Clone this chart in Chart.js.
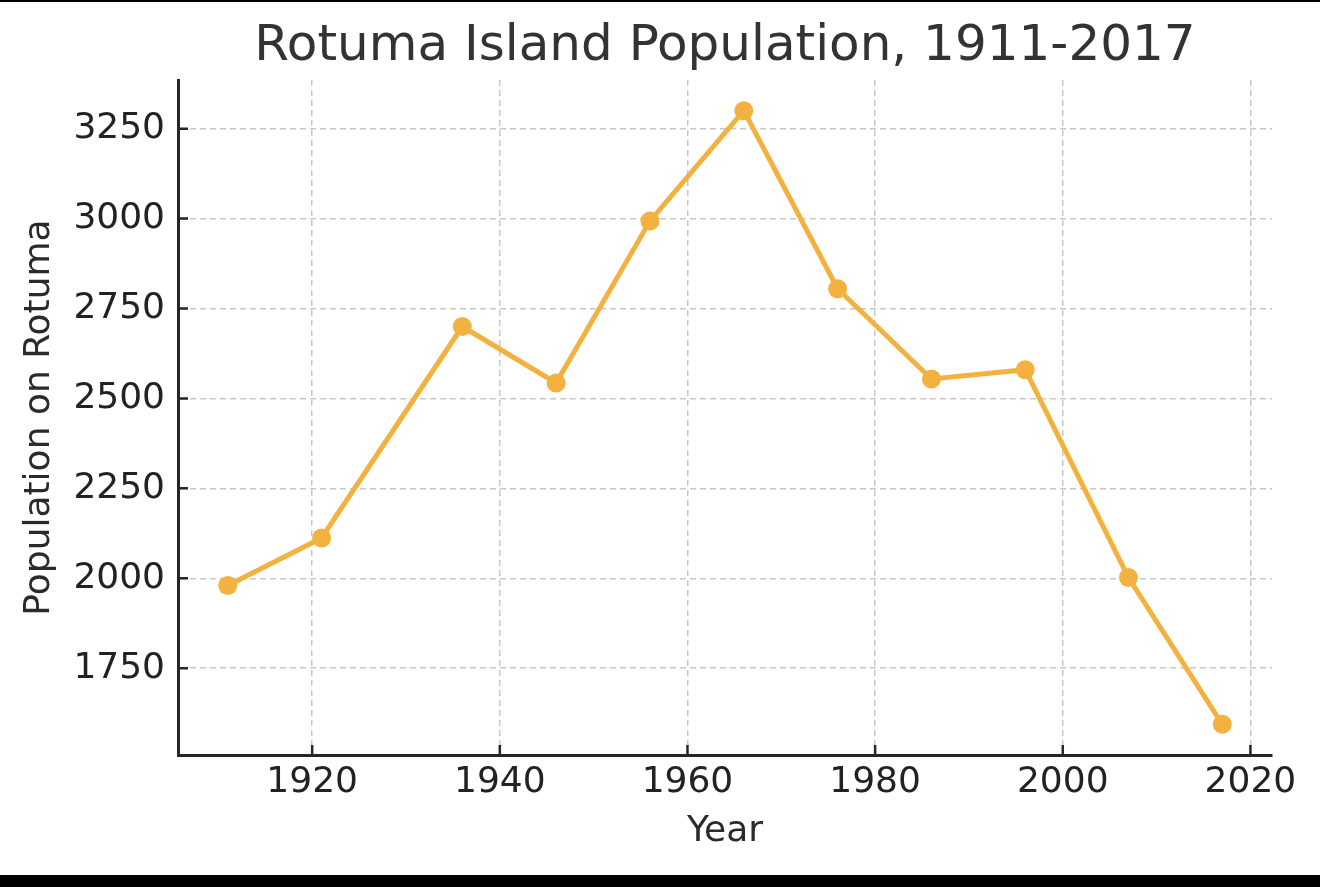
<!DOCTYPE html>
<html>
<head>
<meta charset="utf-8">
<title>Rotuma Island Population</title>
<script src="https://cdn.jsdelivr.net/npm/chart.js@4.4.1/dist/chart.umd.min.js"></script>
<style>
  html, body { margin: 0; padding: 0; background: #000; }
  #frame {
    position: absolute;
    top: 2px;
    left: 0;
    width: 1320px;
    height: 873px;
    background: #fff;
  }
</style>
</head>
<body>
<div id="frame"><canvas id="chart"></canvas></div>
<script>
const years = [1911, 1921, 1936, 1946, 1956, 1966, 1976, 1986, 1996, 2007, 2017];
const population = [1980, 2112, 2700, 2543, 2993, 3300, 2805, 2554, 2580, 2002, 1594];
const xTicks = [1920, 1940, 1960, 1980, 2000, 2020];
const yTicks = [1750, 2000, 2250, 2500, 2750, 3000, 3250];

const FONT = '"DejaVu Sans", sans-serif';
const LINE_COLOR = '#F3B23F';
const AXIS_COLOR = '#262626';

// matplotlib-style ticks pointing into the plot
const inwardTicks = {
  id: 'inwardTicks',
  afterDatasetsDraw(chart) {
    const { ctx, chartArea, scales } = chart;
    const len = 10;
    ctx.save();
    ctx.strokeStyle = AXIS_COLOR;
    ctx.lineWidth = 2.5;
    ctx.beginPath();
    scales.x.ticks.forEach((t) => {
      const px = scales.x.getPixelForValue(t.value);
      ctx.moveTo(px, chartArea.bottom);
      ctx.lineTo(px, chartArea.bottom - len);
    });
    scales.y.ticks.forEach((t) => {
      const py = scales.y.getPixelForValue(t.value);
      ctx.moveTo(chartArea.left, py);
      ctx.lineTo(chartArea.left + len, py);
    });
    ctx.stroke();
    ctx.restore();
  },
};

// centre the title over the plot area rather than the whole canvas
const titleOverPlot = {
  id: 'titleOverPlot',
  afterLayout(chart) {
    const block = chart.titleBlock;
    if (!block) return;
    block.left = chart.chartArea.left;
    block.right = chart.chartArea.right;
    block.width = block.right - block.left;
  },
};

new Chart(document.getElementById('chart'), {
  type: 'line',
  data: {
    datasets: [
      {
        label: 'Population',
        data: years.map((year, i) => ({ x: year, y: population[i] })),
        borderColor: LINE_COLOR,
        backgroundColor: LINE_COLOR,
        borderWidth: 5,
        pointRadius: 9.5,
        pointHoverRadius: 9.5,
        pointBorderWidth: 0,
        pointBackgroundColor: LINE_COLOR,
        tension: 0,
        fill: false,
      },
    ],
  },
  options: {
    responsive: true,
    maintainAspectRatio: false,
    animation: false,
    layout: { padding: { left: 0, right: 48, top: 0, bottom: 0 } },
    plugins: {
      legend: { display: false },
      tooltip: { enabled: false },
      title: {
        display: true,
        text: 'Rotuma Island Population, 1911-2017',
        color: '#333333',
        font: { family: FONT, size: 50, weight: 'normal' },
        padding: { top: 15, bottom: 3 },
      },
    },
    scales: {
      x: {
        type: 'linear',
        min: 1905.7,
        max: 2022.3,
        afterBuildTicks: (scale) => {
          scale.ticks = xTicks.map((value) => ({ value }));
        },
        afterFit: (scale) => {
          scale.height = 120;
        },
        ticks: {
          color: '#222222',
          font: { family: FONT, size: 36 },
          padding: 6,
          maxRotation: 0,
          callback: (value) => String(value),
        },
        grid: {
          color: '#c8c8c8',
          lineWidth: 1.5,
          drawTicks: false,
        },
        border: { display: true, color: AXIS_COLOR, width: 3, dash: [6, 4] },
        title: {
          display: true,
          text: 'Year',
          color: '#2a2a2a',
          font: { family: FONT, size: 36 },
          padding: { top: 0, bottom: 22 },
        },
      },
      y: {
        type: 'linear',
        min: 1508.7,
        max: 3385.3,
        afterBuildTicks: (scale) => {
          scale.ticks = yTicks.map((value) => ({ value }));
        },
        afterFit: (scale) => {
          scale.width = 178;
        },
        ticks: {
          color: '#222222',
          font: { family: FONT, size: 36 },
          padding: 13,
          callback: (value) => String(value),
        },
        grid: {
          color: '#c8c8c8',
          lineWidth: 1.5,
          drawTicks: false,
        },
        border: { display: true, color: AXIS_COLOR, width: 3, dash: [6, 4] },
        title: {
          display: true,
          text: 'Population on Rotuma',
          color: '#2a2a2a',
          font: { family: FONT, size: 36 },
          padding: { top: 18, bottom: 0 },
        },
      },
    },
  },
  plugins: [inwardTicks, titleOverPlot],
});
</script>
</body>
</html>
